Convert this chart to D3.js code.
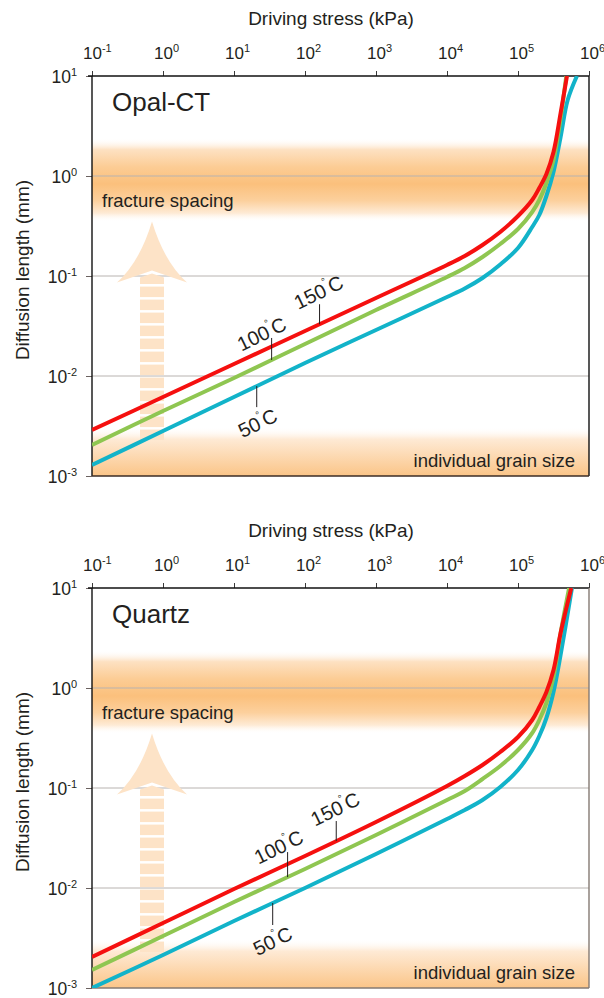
<!DOCTYPE html>
<html lang="en">
<head>
<meta charset="UTF-8">
<script src="https://cdn.jsdelivr.net/npm/d3@7"></script>
<title>Diffusion length vs driving stress</title>
<style>
    body { margin: 0; background: #fff; }
    svg { display: block; font-family: "Liberation Sans", Arial, sans-serif; }
    text { fill: #231f20; }
</style>
</head>
<body>
<svg id="chart" width="604" height="998"></svg>
<script>
    // [log10 stress (kPa), log10 diffusion length (mm)]
    const opal50 = [[-1,-2.89],[0,-2.55],[1,-2.21],[2,-1.87],[3,-1.54],[4,-1.21],[4.25,-1.125],[4.5,-1.02],[4.75,-0.885],[5,-0.72],[5.2,-0.51],[5.3,-0.39],[5.4,-0.20],[5.5,0.04],[5.6,0.39],[5.7,0.76],[5.83,1.0]];
    const opal100 = [[-1,-2.69],[0,-2.35],[1,-2.02],[2,-1.68],[3,-1.34],[4,-1.01],[4.25,-0.92],[4.5,-0.81],[4.75,-0.68],[5,-0.53],[5.2,-0.36],[5.3,-0.24],[5.4,-0.07],[5.5,0.16],[5.6,0.58],[5.68,1.0]];
    const opal150 = [[-1,-2.54],[0,-2.21],[1,-1.88],[2,-1.55],[3,-1.22],[4,-0.89],[4.25,-0.80],[4.5,-0.69],[4.75,-0.56],[5,-0.40],[5.2,-0.24],[5.3,-0.12],[5.4,0.02],[5.5,0.24],[5.6,0.63],[5.69,1.0]];
    const quartz50 = [[-1,-3.0],[0,-2.67],[1,-2.33],[2,-2.00],[3,-1.66],[4,-1.31],[4.25,-1.22],[4.5,-1.12],[4.75,-0.99],[5,-0.82],[5.2,-0.62],[5.3,-0.48],[5.4,-0.30],[5.5,-0.04],[5.6,0.33],[5.76,1.0]];
    const quartz100 = [[-1,-2.82],[0,-2.48],[1,-2.14],[2,-1.81],[3,-1.47],[4,-1.12],[4.25,-1.03],[4.5,-0.91],[4.75,-0.78],[5,-0.62],[5.2,-0.45],[5.3,-0.32],[5.4,-0.15],[5.5,0.11],[5.6,0.55],[5.72,1.0]];
    const quartz150 = [[-1,-2.69],[0,-2.35],[1,-2.01],[2,-1.68],[3,-1.34],[4,-0.98],[4.25,-0.88],[4.5,-0.77],[4.75,-0.64],[5,-0.49],[5.2,-0.32],[5.3,-0.19],[5.4,-0.04],[5.5,0.18],[5.6,0.55],[5.75,1.0]];

    const temps = ["50", "100", "150"];
    const colors = ["#12b3c9", "#8fc651", "#f5100f"];
    // stress (log10) where each temperature label's leader touches its curve
    const opalLabelAt = [1.32, 1.53, 2.205];
    const quartzLabelAt = [1.545, 1.755, 2.44];

    const xTicks = [1e-1, 1, 1e1, 1e2, 1e3, 1e4, 1e5, 1e6];
    const yTicks = [1e1, 1, 1e-1, 1e-2, 1e-3];
    const gridTicks = [1, 1e-1, 1e-2];
    const fractureBand = [0.35, 2.4];   // mm
    const grainBand = [0.001, 0.0031];  // mm
    const arrowAt = [0.7, 0.35];        // stress (kPa), length (mm) of arrow tip

    const svg = d3.select("#chart");
    const defs = svg.append("defs");

    const fracGrad = defs.append("linearGradient").attr("id", "fracGrad")
        .attr("x1", 0).attr("y1", 0).attr("x2", 0).attr("y2", 1);
    [[0, "#fff", 0], [0.14, "#fde1c2", 1], [0.35, "#fccc94", 1], [0.55, "#fbc07c", 1],
     [0.75, "#fcd09d", 1], [0.9, "#feebd6", 1], [1, "#fff", 0]].forEach(s =>
        fracGrad.append("stop").attr("offset", s[0]).attr("stop-color", s[1]).attr("stop-opacity", s[2]));

    const grainGrad = defs.append("linearGradient").attr("id", "grainGrad")
        .attr("x1", 0).attr("y1", 0).attr("x2", 0).attr("y2", 1);
    [[0, "#fff", 0], [0.25, "#feead5", 1], [1, "#fbc588", 1]].forEach(s =>
        grainGrad.append("stop").attr("offset", s[0]).attr("stop-color", s[1]).attr("stop-opacity", s[2]));

    const x = d3.scaleLog().domain([0.1, 1e6]).range([92, 589]);

    const powerLabel = (sel, d) => {
        sel.text(null);
        sel.append("tspan").text("10");
        sel.append("tspan").attr("dy", -7).attr("font-size", 11).text(Math.round(Math.log10(d)));
    };

    const drawPanel = (name, top, series, labelAt, labelOffsets, idx) => {
        const y = d3.scaleLog().domain([1e-3, 10]).range([top + 400, top]);
        const g = svg.append("g");
        const [x0, x1] = x.range();

        defs.append("clipPath").attr("id", "clip" + idx)
            .append("rect").attr("x", x0).attr("y", top).attr("width", x1 - x0).attr("height", 400);

        // bands
        g.append("rect").attr("x", x0).attr("width", x1 - x0)
            .attr("y", y(fractureBand[1])).attr("height", y(fractureBand[0]) - y(fractureBand[1]))
            .attr("fill", "url(#fracGrad)");
        g.append("rect").attr("x", x0).attr("width", x1 - x0)
            .attr("y", y(grainBand[1])).attr("height", y(grainBand[0]) - y(grainBand[1]))
            .attr("fill", "url(#grainGrad)");

        // gridlines
        g.selectAll(".grid").data(gridTicks).enter().append("line")
            .attr("x1", x0).attr("x2", x1).attr("y1", d => y(d)).attr("y2", d => y(d))
            .attr("stroke", "#b8b3b0").attr("stroke-width", 1);

        // arrow
        const ax = x(arrowAt[0]), ay = y(arrowAt[1]);
        const arrowColor = "#fde3c7";
        g.append("path")
            .attr("d", `M${ax},${ay} Q${ax + 12},${ay + 40} ${ax + 35},${ay + 61} L${ax},${ay + 49} L${ax - 35},${ay + 61} Q${ax - 12},${ay + 40} ${ax},${ay} Z`)
            .attr("fill", arrowColor);
        g.append("path")
            .attr("d", `M${ax - 12},${ay + 56} L${ax},${ay + 52} L${ax + 12},${ay + 56} L${ax + 12},${ay + 62.5} L${ax - 12},${ay + 62.5} Z`)
            .attr("fill", arrowColor);
        g.selectAll(".bar").data(d3.range(12)).enter().append("rect")
            .attr("x", ax - 12).attr("width", 24)
            .attr("y", k => ay + 65 + 13 * k).attr("height", 10.5)
            .attr("fill", arrowColor);

        // axes
        g.append("g").attr("transform", `translate(0,${top})`)
            .call(d3.axisTop(x).tickValues(xTicks).tickSize(5))
            .call(a => a.select(".domain").remove())
            .call(a => a.selectAll(".tick line").attr("stroke", "#3a3a3a"))
            .call(a => a.selectAll(".tick text")
                .attr("font-size", 17).attr("font-family", null)
                .attr("text-anchor", "start").attr("x", -9.5).attr("y", -17).attr("dy", null)
                .each(function (d) { powerLabel(d3.select(this), d); }));

        g.append("g").attr("transform", `translate(${x0},0)`)
            .call(d3.axisLeft(y).tickValues(yTicks).tickSize(6))
            .call(a => a.select(".domain").remove())
            .call(a => a.selectAll(".tick line").attr("stroke", "#6b6260"))
            .call(a => a.selectAll(".tick text")
                .attr("font-size", 17.5).attr("font-family", null)
                .attr("x", -15).attr("dy", null).attr("y", 6)
                .each(function (d) { powerLabel(d3.select(this), d); }));

        // frame
        g.append("line").attr("x1", x0 - 4).attr("x2", x1).attr("y1", top).attr("y2", top)
            .attr("stroke", "#111").attr("stroke-width", 1.4);
        g.append("line").attr("x1", x0).attr("x2", x0).attr("y1", top).attr("y2", top + 400)
            .attr("stroke", "#111").attr("stroke-width", 1.4);
        g.append("line").attr("x1", x1).attr("x2", x1).attr("y1", top).attr("y2", top + 400)
            .attr("stroke", idx ? "#857a73" : "#111").attr("stroke-width", 1.4);
        g.append("line").attr("x1", x0).attr("x2", x1).attr("y1", top + 400).attr("y2", top + 400)
            .attr("stroke", idx ? "#857a73" : "#3b2d26").attr("stroke-width", 1.4);

        // curves
        const line = d3.line()
            .x(d => x(10 ** d[0])).y(d => y(10 ** d[1]))
            .curve(d3.curveCatmullRom.alpha(0.5));
        g.append("g").attr("clip-path", `url(#clip${idx})`)
            .selectAll("path").data(series).enter().append("path")
            .attr("d", line).attr("fill", "none")
            .attr("stroke", (d, i) => colors[i]).attr("stroke-width", 4);

        // temperature labels with leaders
        series.forEach((s, i) => {
            const f = d3.scaleLinear().domain(s.map(d => d[0])).range(s.map(d => d[1]));
            const lx = x(10 ** labelAt[i]);
            const ly = y(10 ** f(labelAt[i]));
            const o = labelOffsets[i];
            const tipY = ly + o.len;
            g.append("line").attr("x1", lx).attr("x2", lx).attr("y1", ly).attr("y2", tipY)
                .attr("stroke", "#231f20").attr("stroke-width", 1);
            const t = g.append("text")
                .attr("transform", `translate(${lx + o.dx},${tipY + o.dy}) rotate(-26)`)
                .attr("text-anchor", "middle").attr("dominant-baseline", "central")
                .attr("font-size", 20);
            t.append("tspan").text(temps[i]);
            t.append("tspan").attr("dy", -8).attr("font-size", 10).text("°");
            t.append("tspan").attr("dy", 8).text("C");
        });

        // texts
        g.append("text").attr("x", 331).attr("y", top - 51).attr("text-anchor", "middle")
            .attr("font-size", 19).text("Driving stress (kPa)");
        g.append("text").attr("transform", `translate(29,${top + 194}) rotate(-90)`)
            .attr("text-anchor", "middle").attr("font-size", 19).text("Diffusion length (mm)");
        g.append("text").attr("x", 112).attr("y", top + 35).attr("font-size", 26).text(name);
        g.append("text").attr("x", 102).attr("y", top + 131).attr("font-size", 18.5).text("fracture spacing");
        g.append("text").attr("x", 575).attr("y", top + 391).attr("text-anchor", "end")
            .attr("font-size", 18.5).text("individual grain size");
    };

    drawPanel("Opal-CT", 76, [opal50, opal100, opal150], opalLabelAt,
        [{len: 21, dx: 1, dy: 16}, {len: -22, dx: -10, dy: -4}, {len: -20, dx: -1, dy: -12}], 0);
    drawPanel("Quartz", 588, [quartz50, quartz100, quartz150], quartzLabelAt,
        [{len: 22, dx: 0, dy: 16}, {len: -25, dx: -9, dy: -5}, {len: -20, dx: -1, dy: -12}], 1);
</script>
</body>
</html>
